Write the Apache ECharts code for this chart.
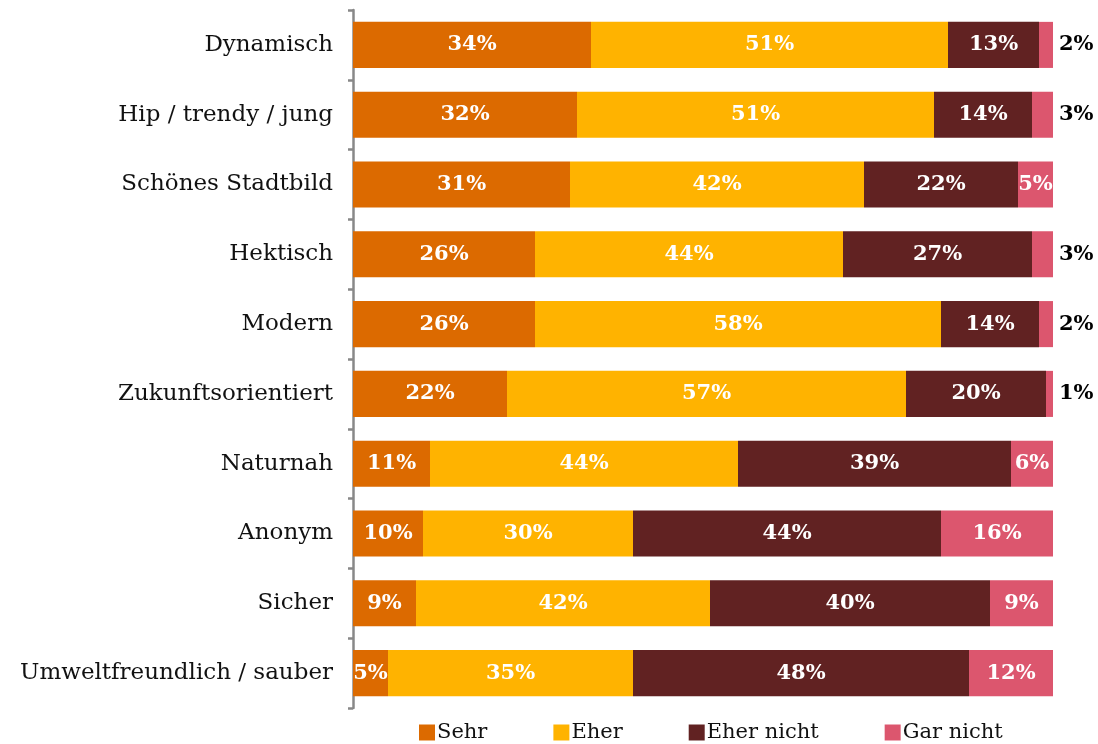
<!DOCTYPE html>
<html><head><meta charset="utf-8">
<script src="https://cdn.jsdelivr.net/npm/echarts@6/dist/echarts.min.js"></script>
<style>html,body{margin:0;padding:0;background:#fff}#c{width:1098px;height:744px}</style>
</head><body><div id="c"></div>
<script>
const categories = ["Dynamisch","Hip / trendy / jung","Schönes Stadtbild","Hektisch","Modern","Zukunftsorientiert","Naturnah","Anonym","Sicher","Umweltfreundlich / sauber"];
const sehr = [34,32,31,26,26,22,11,10,9,5];
const eher = [51,51,42,44,58,57,44,30,42,35];
const eherNicht = [13,14,22,27,14,20,39,44,40,48];
const garNicht = [2,3,5,3,2,1,6,16,9,12];
const seriesNames = ["Sehr","Eher","Eher nicht","Gar nicht"];
const colors = ["#DC6A00","#FFB300","#612222","#DC566E"];
const FONT = "'DejaVu Serif', serif";

const chart = echarts.init(document.getElementById('c'));
const vals = [sehr, eher, eherNicht, garNicht];
const series = vals.map((arr, si) => ({
  name: seriesNames[si],
  type: 'bar',
  stack: 'total',
  barCategoryGap: '34%',
  itemStyle: {color: colors[si]},
  label: {show: true, position: 'inside', color: '#fff', fontFamily: FONT, fontWeight: 'bold', fontSize: 21, formatter: '{c}%'},
  data: arr.map(v => {
    if (si === 3 && v < 5) {
      return {value: v, label: {position: 'right', color: '#000', distance: 6}};
    }
    return v;
  })
}));

chart.setOption({
  animation: false,
  color: colors,
  grid: {left: 353, right: 45, top: 10, bottom: 36, containLabel: false},
  xAxis: {type: 'value', min: 0, max: 100, show: false},
  yAxis: {
    type: 'category', data: categories, inverse: true,
    axisLine: {show: true, lineStyle: {color: '#888', width: 2.5}},
    axisTick: {show: true, length: 5, lineStyle: {color: '#888', width: 2.5}},
    axisLabel: {color: '#111', fontFamily: FONT, fontSize: 23, margin: 20}
  },
  legend: {
    bottom: -4, left: 414, itemWidth: 16, itemHeight: 16, itemGap: 66,
    icon: 'rect',
    textStyle: {fontFamily: FONT, fontSize: 21, color: '#111', padding: [0,0,0,-3]},
    data: seriesNames
  },
  series: series
});
</script></body></html>
